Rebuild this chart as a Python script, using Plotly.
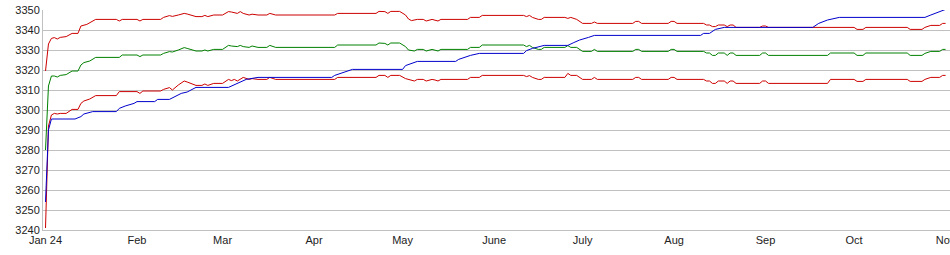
import pandas as pd
import plotly.graph_objects as go

START = pd.Timestamp("2024-01-01")

# Upper band (red): day offset from 2024-01-01, value
upper_days = [0, 1, 2, 3, 4, 5, 7, 9, 11, 12, 14, 15, 17, 24, 25, 26, 31, 32, 33, 39, 40, 42, 43, 45, 47, 48, 50,
              51, 53, 54, 55, 57, 60, 61, 62, 63, 65, 66, 67, 69, 70, 72, 75, 76, 78, 98, 99, 112, 113, 115, 116,
              117, 120, 122, 123, 124, 126, 128, 129, 131, 132, 133, 134, 143, 144, 147, 148, 162, 163, 164, 165,
              167, 168, 169, 176, 177, 178, 180, 182, 185, 186, 187, 199, 200, 201, 202, 211, 212, 213, 214, 223,
              224, 225, 226, 227, 228, 230, 231, 232, 233, 234, 242, 243, 244, 245, 274, 275, 277, 278, 292, 293,
              297, 298, 300, 303, 304, 305]
upper_vals = [3319.5, 3333, 3335.8, 3336.2, 3335.5, 3336.3, 3336.7, 3338.3, 3338.3, 3342, 3342.8, 3343.7, 3345.3,
              3345.3, 3344.5, 3345.3, 3345.3, 3344.5, 3345.3, 3345.3, 3346.3, 3347.2, 3346.8, 3347.5, 3348.3, 3348,
              3347.2, 3346.7, 3346.7, 3347.3, 3346.7, 3347.5, 3347.5, 3348.2, 3349.2, 3349, 3348.3, 3349.2, 3348.3,
              3347.5, 3347.9, 3347.5, 3347.5, 3348.3, 3347.5, 3347.5, 3348.3, 3348.3, 3349.3, 3349.2, 3348.3,
              3349.3, 3349.3, 3347.5, 3345.5, 3344.7, 3345.3, 3345.3, 3344.5, 3345.3, 3345, 3344.5, 3345.3, 3345.3,
              3346.3, 3346.3, 3347.3, 3347.3, 3346.7, 3347.3, 3346.3, 3345.3, 3345.3, 3346.3, 3346.3, 3345.8,
              3346.3, 3345.3, 3343.3, 3343.3, 3344, 3343.3, 3343.3, 3344.3, 3344.3, 3343.3, 3343.3, 3344.3, 3344.3,
              3343.3, 3343.3, 3342.5, 3342.5, 3341.7, 3341.7, 3342.5, 3342.5, 3341.7, 3342.5, 3342.5, 3341.3,
              3341.3, 3342, 3342, 3341.3, 3341.3, 3340.3, 3340.3, 3341.3, 3341.3, 3340.3, 3340.3, 3341.3, 3342.3,
              3342.3, 3343.3, 3343.3]

# Middle line (green)
mid_days = [0, 1, 2, 3, 4, 5, 7, 9, 11, 12, 13, 15, 17, 25, 26, 31, 32, 33, 39, 40, 42, 43, 45, 47, 48, 50, 51,
            53, 54, 55, 57, 60, 61, 62, 63, 65, 66, 67, 69, 70, 72, 75, 76, 78, 98, 99, 112, 113, 115, 116, 117,
            120, 122, 123, 125, 126, 128, 129, 131, 132, 133, 134, 143, 144, 147, 148, 162, 163, 164, 165, 167,
            168, 169, 176, 177, 178, 180, 182, 185, 186, 187, 199, 200, 201, 202, 211, 212, 213, 214, 223, 224,
            225, 226, 227, 228, 230, 231, 232, 233, 234, 242, 243, 244, 245, 265, 266, 274, 275, 277, 278, 292,
            293, 297, 298, 300, 303, 304, 305]
mid_vals = [3280, 3312, 3317, 3317, 3316.5, 3317.3, 3317.7, 3319.5, 3319.5, 3322.5, 3323.7, 3324.5, 3326.3,
            3326.3, 3327.5, 3327.5, 3326.7, 3327.5, 3327.5, 3328.3, 3329.2, 3329, 3330, 3331.2, 3330.8, 3330,
            3329.5, 3329.5, 3330, 3329.5, 3330.3, 3330.3, 3331.3, 3332.3, 3332, 3331.7, 3332.3, 3331.7, 3331.3,
            3332, 3331.3, 3331.3, 3332.3, 3331.3, 3331.3, 3332.5, 3332.5, 3333.5, 3333.3, 3332.5, 3333.5, 3333.5,
            3331.7, 3330, 3329.5, 3330.3, 3330.3, 3329.5, 3330.3, 3330, 3329.5, 3330.3, 3330.3, 3331.3, 3331.3,
            3332.5, 3332.5, 3331.7, 3332.3, 3331.3, 3330.3, 3330.3, 3331.3, 3331.3, 3332.2, 3331.3, 3331.3,
            3329.3, 3329.3, 3330.3, 3329.3, 3329.3, 3330.3, 3330.3, 3329.3, 3329.3, 3330.3, 3330.3, 3329.3,
            3329.3, 3328.5, 3328.5, 3327.3, 3327.3, 3328.5, 3328.5, 3327.3, 3328.5, 3328.5, 3327.3, 3327.3,
            3328.5, 3328.5, 3327.3, 3327.3, 3328.5, 3328.5, 3327.3, 3327.3, 3328.5, 3328.5, 3327.3, 3327.3,
            3328.3, 3329.3, 3329.3, 3330.3, 3330.3]

# Lower band (red)
lower_days = [0, 1, 2, 3, 4, 5, 7, 9, 11, 12, 13, 15, 17, 24, 25, 31, 32, 33, 39, 40, 42, 43, 45, 47, 48, 50, 51,
              53, 54, 55, 57, 60, 61, 62, 63, 64, 65, 67, 69, 70, 72, 75, 76, 78, 98, 99, 112, 113, 115, 116, 117,
              120, 122, 123, 125, 126, 128, 129, 131, 132, 133, 134, 143, 144, 147, 148, 162, 163, 164, 165, 167,
              168, 169, 176, 177, 178, 180, 182, 185, 186, 187, 199, 200, 201, 202, 211, 212, 213, 214, 223, 224,
              225, 226, 227, 228, 230, 231, 232, 233, 234, 242, 243, 244, 245, 265, 266, 274, 275, 277, 278, 292,
              293, 297, 298, 300, 303, 304, 305]
lower_vals = [3241, 3292, 3297.5, 3298.3, 3298, 3298.3, 3298.3, 3300.3, 3300.3, 3303.3, 3304.5, 3305.5, 3307.2,
              3307.2, 3309.2, 3309.2, 3308.3, 3309.5, 3309.5, 3310.3, 3311.2, 3310, 3312.5, 3314.5, 3314, 3312.8,
              3312.3, 3312.3, 3313, 3312.3, 3313.3, 3313.3, 3314.2, 3315.3, 3314.7, 3315.3, 3314.5, 3316.3,
              3315.3, 3315.7, 3315.3, 3315.3, 3316.3, 3315.3, 3315.3, 3316.3, 3316.3, 3317.3, 3317.3, 3316.3,
              3317.3, 3317.3, 3315.7, 3315.3, 3314.5, 3315.3, 3315.3, 3314.5, 3315.3, 3315, 3314.5, 3315.3, 3315.3,
              3316.3, 3316.3, 3317.3, 3317.3, 3316.7, 3317.2, 3316.3, 3315.3, 3315.3, 3316.3, 3316.3, 3318.3,
              3317.3, 3317.3, 3315.3, 3315.3, 3316.3, 3315.3, 3315.3, 3316.3, 3316.3, 3315.3, 3315.3, 3316.3,
              3316.3, 3315.3, 3315.3, 3314.5, 3314.5, 3313.3, 3313.3, 3314.5, 3314.5, 3313.3, 3314.5, 3314.5,
              3313.3, 3313.3, 3314.5, 3314.5, 3313.3, 3313.3, 3315.3, 3315.3, 3314.3, 3314.3, 3315.3, 3315.3,
              3314.3, 3314.3, 3315.3, 3316.3, 3316.3, 3317.3, 3317.3]

# Cumulative line (blue)
blue_days = [0, 1, 2, 10, 12, 13, 16, 24, 25, 27, 30, 31, 37, 38, 42, 44, 46, 48, 50, 51, 62, 65, 68, 72, 97, 98,
             100, 103, 104, 121, 122, 126, 139, 140, 142, 144, 147, 162, 163, 165, 169, 177, 179, 181, 184, 186,
             222, 223, 225, 226, 227, 230, 260, 262, 265, 269, 298, 300, 303, 305]
blue_vals = [3254, 3290, 3295.5, 3295.5, 3296.7, 3298, 3299.2, 3299.2, 3300.8, 3302, 3303.3, 3304.2, 3304.2,
             3305.3, 3305.3, 3306.7, 3308.3, 3309, 3310.3, 3311.3, 3311.3, 3313.3, 3315.3, 3316.3, 3316.3, 3317.3,
             3318.3, 3319.8, 3320.3, 3320.3, 3322.2, 3324.3, 3324.3, 3325.3, 3326.3, 3327.3, 3328.3, 3328.3,
             3329.7, 3330.8, 3332.3, 3332.3, 3333.7, 3335, 3336.3, 3337.3, 3337.3, 3338.3, 3338.3, 3339.3, 3340.3,
             3341.3, 3341.3, 3343.3, 3345, 3346.3, 3346.3, 3347.5, 3349, 3350.3]

x_tick_dates = ["2024-01-01", "2024-02-01", "2024-03-01", "2024-04-01", "2024-05-01", "2024-06-01",
                "2024-07-01", "2024-08-01", "2024-09-01", "2024-10-01", "2024-11-01"]
x_tick_text = ["Jan 24", "Feb", "Mar", "Apr", "May", "June", "July", "Aug", "Sep", "Oct", "Nov"]
y_ticks = [3240, 3250, 3260, 3270, 3280, 3290, 3300, 3310, 3320, 3330, 3340, 3350]


def to_dates(days):
    return START + pd.to_timedelta(days, unit="D")


RED = "#cc0000"
GREEN = "#008000"
BLUE = "#0000cc"

fig = go.Figure()
fig.add_trace(go.Scatter(x=to_dates(upper_days), y=upper_vals, mode="lines",
                         line=dict(color=RED, width=1), showlegend=False))
fig.add_trace(go.Scatter(x=to_dates(mid_days), y=mid_vals, mode="lines",
                         line=dict(color=GREEN, width=1), showlegend=False))
fig.add_trace(go.Scatter(x=to_dates(lower_days), y=lower_vals, mode="lines",
                         line=dict(color=RED, width=1), showlegend=False))
fig.add_trace(go.Scatter(x=to_dates(blue_days), y=blue_vals, mode="lines",
                         line=dict(color=BLUE, width=1), showlegend=False))

fig.update_layout(
    width=950, height=255,
    margin=dict(l=43, r=0, t=10, b=25),
    paper_bgcolor="white", plot_bgcolor="white",
    font=dict(family="Liberation Sans, Arial, sans-serif", size=11, color="#222222"),
    showlegend=False,
)
fig.update_xaxes(
    type="date",
    range=[START + pd.Timedelta(days=-0.85), START + pd.Timedelta(days=306.5)],
    tickmode="array", tickvals=x_tick_dates, ticktext=x_tick_text,
    ticklabeloverflow="allow", automargin=False,
    showgrid=False, showline=True, linecolor="#c0c0c0", linewidth=1,
    ticks="", zeroline=False,
)
fig.update_yaxes(
    range=[3240, 3350],
    tickmode="array", tickvals=y_ticks, automargin=False,
    showgrid=True, gridcolor="#c0c0c0", gridwidth=1,
    showline=True, linecolor="#c0c0c0", linewidth=1,
    ticks="", zeroline=False,
)

fig.write_html("out.html")
